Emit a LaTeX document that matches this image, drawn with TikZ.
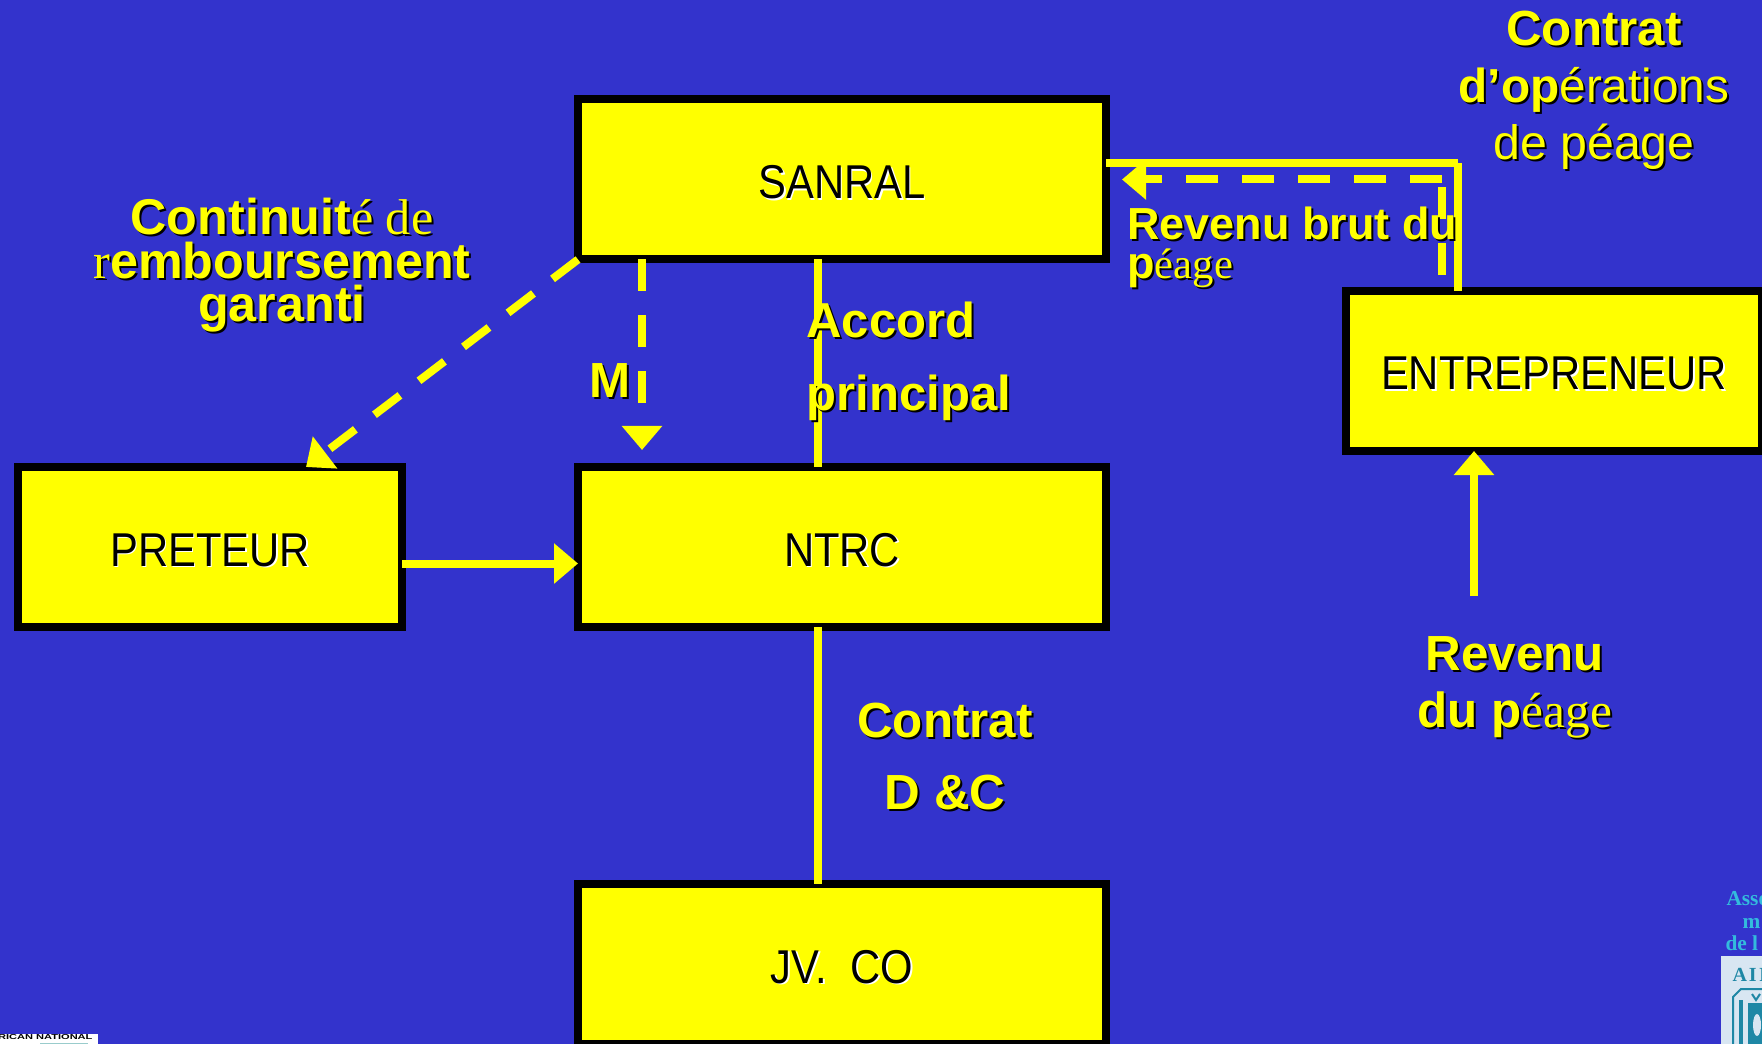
\documentclass[tikz,border=0pt]{standalone}
\usepackage{fontspec}
\setmainfont{Liberation Sans}
\newfontfamily\narrowsans[FakeStretch=0.88]{Liberation Sans}
\newfontfamily\timesface{Liberation Serif}
\usetikzlibrary{arrows.meta}

\definecolor{bgblue}{RGB}{51,51,204}
\definecolor{boxyellow}{RGB}{255,255,0}
\definecolor{logocyan}{RGB}{51,187,221}
\definecolor{logoteal}{RGB}{30,135,165}
\definecolor{logopale}{RGB}{216,230,242}

\newcommand{\blackshad}[1]{\leavevmode\rlap{\hspace{1.5pt}\raisebox{-1.5pt}{\color{black}#1}}#1}
\newcommand{\whiteshad}[1]{\leavevmode\rlap{\hspace{1.2pt}\raisebox{-1.2pt}{\color{white}#1}}#1}
\newcommand{\fsize}[2]{\fontsize{#1}{#2}\selectfont}

\tikzset{
  every picture/.style={line width=0.75pt},
  box/.style={draw=black,line width=6pt,fill=boxyellow,text=black,outer sep=0pt,inner sep=0pt,minimum height=120pt,text height=28.5pt,text depth=0pt,font=\narrowsans\fsize{35.6}{40}},
  flow/.style={draw=boxyellow,line width=6pt},
  dashflow/.style={flow,dash pattern=on 24pt off 18pt},
  tip/.style={-{Triangle[length=18pt,width=29.25pt]}},
  lab/.style={text=boxyellow,inner sep=0pt,font=\bfseries\fsize{37}{43}},
  logotext/.style={anchor=base west,inner sep=0pt,text=logocyan,font=\timesface\bfseries\fsize{16}{18}},
}

\begin{document}
\begin{tikzpicture}[x=0.75pt,y=0.75pt,yscale=-1,xscale=1]
	\fill[bgblue] (0,0) rectangle (1762,1044);
	\useasboundingbox (0,0) rectangle (1762,1044);

	% boxes
	\node[box,minimum width=396pt] (sanral) at (842,179.5) {\whiteshad{SANRAL}};
	\node[box,minimum width=288pt] (preteur) at (210,547) {\whiteshad{PRETEUR}};
	\node[box,minimum width=396pt] (ntrc) at (842,547) {\whiteshad{NTRC}};
	\node[box,minimum width=396pt] (jvco) at (842,964) {\whiteshad{JV.\hspace{9pt} CO}};
	\node[box,minimum width=312pt] (entrepreneur) at (1554,371) {\whiteshad{ENTREPRENEUR}};

	% free ends
	\coordinate (solidcorner) at (1458,163.5);
	\coordinate (dashcorner) at (1442,179.5);
	\coordinate (revfree) at (1474,596);

	% connectors
	\draw[flow] ([xshift=-18pt]sanral.south) -- ([xshift=-18pt]ntrc.north);
	\draw[flow] ([xshift=-18pt]ntrc.south) -- ([xshift=-18pt]jvco.north);
	\draw[flow,tip] ([yshift=12.4pt]preteur.east) -- ([yshift=12.4pt]ntrc.west);
	\draw[dashflow,tip] (sanral.south west) -- ([xshift=72pt]preteur.north);
	\draw[dashflow,tip,shorten >=12.75pt] ([xshift=-150pt]sanral.south) -- ([xshift=-150pt]ntrc.north);
	\draw[flow] (sanral.east |- solidcorner) -- (solidcorner);
	\draw[flow] (solidcorner) -- (entrepreneur.north -| solidcorner);
	\draw[dashflow,shorten <=12pt,shorten >=6pt] (entrepreneur.north -| dashcorner) -- (dashcorner);
	\draw[dashflow,tip,shorten >=12pt] (dashcorner) -- (sanral.east);
	\draw[flow,tip] (revfree) -- (entrepreneur.south -| revfree);

	% labels
	\node[lab,font=\bfseries\fsize{37.7}{32.5},align=center,anchor=base] (garanti) at (282,321.5)
		{\blackshad{Continuit{\mdseries\timesface é de}}\\\blackshad{{\mdseries\timesface r}emboursement}\\\blackshad{garanti}};
	\node[lab,anchor=base] (mlab) at (610,398) {\blackshad{M}};
	\node[lab,font=\bfseries\fsize{36.8}{54.4},align=left,anchor=base west] (accord) at (806,410.5)
		{\blackshad{Accord}\\\blackshad{principal}};
	\node[lab,font=\bfseries\fsize{37}{54},align=center,anchor=base] (contratdc) at (945,809)
		{\blackshad{Contrat}\\\blackshad{D \&C}};
	\node[lab,font=\bfseries\fsize{33.7}{29.5},align=left,anchor=base west] (revbrut) at (1127,278.5)
		{\blackshad{Revenu brut du}\\\blackshad{p{\mdseries\timesface\fsize{32}{29.5}éage}}};
	\node[lab,align=center,anchor=base] (contratop) at (1594,160)
		{\blackshad{Contrat}\\\blackshad{\fsize{35.8}{43}d’op{\mdseries érations}}\\\blackshad{\mdseries\fsize{36.2}{43}de péage}};
	\node[lab,align=center,anchor=base] (revpeage) at (1515,727.5)
		{\blackshad{Revenu}\\\blackshad{du p{\mdseries\timesface éage}}};

	% logos
	\fill[white] (0,1034) rectangle (98,1044);
	\fill[teal!40] (40,1042.5) rectangle (88,1044);
	\node[anchor=east,inner sep=0pt,font=\bfseries\fsize{8.3}{9}] (partner) at (93,1037.5) {\scalebox{1}[0.65]{RICAN NATIONAL}};
	\node[logotext] (assoc) at (1726,905) {Asso};
	\node[logotext] (assocb) at (1742,928) {m};
	\node[logotext] (assocc) at (1725,950) {de l};
	\fill[logopale] (1721,956) rectangle (1762,1044);
	\node[anchor=base west,inner sep=0pt,text=logoteal,font=\timesface\bfseries\fsize{15}{18}] (aipcr) at (1732,981) {A\hspace{1.5pt}I\hspace{2pt}P};
	\draw[logoteal,line width=1.5pt] (1762,989) -- (1741,989) -- (1733,997) -- (1733,1044);
	\draw[logoteal,line width=2.5pt] (1741,1000) -- (1741,1044);
	\fill[logoteal] (1748,1003) rectangle (1762,1044);
	\fill[logopale] (1757,1025) ellipse (4 and 11);
	\draw[logoteal,line width=1.5pt] (1752,994) -- (1756,1000) -- (1760,994);
\end{tikzpicture}
\end{document}
